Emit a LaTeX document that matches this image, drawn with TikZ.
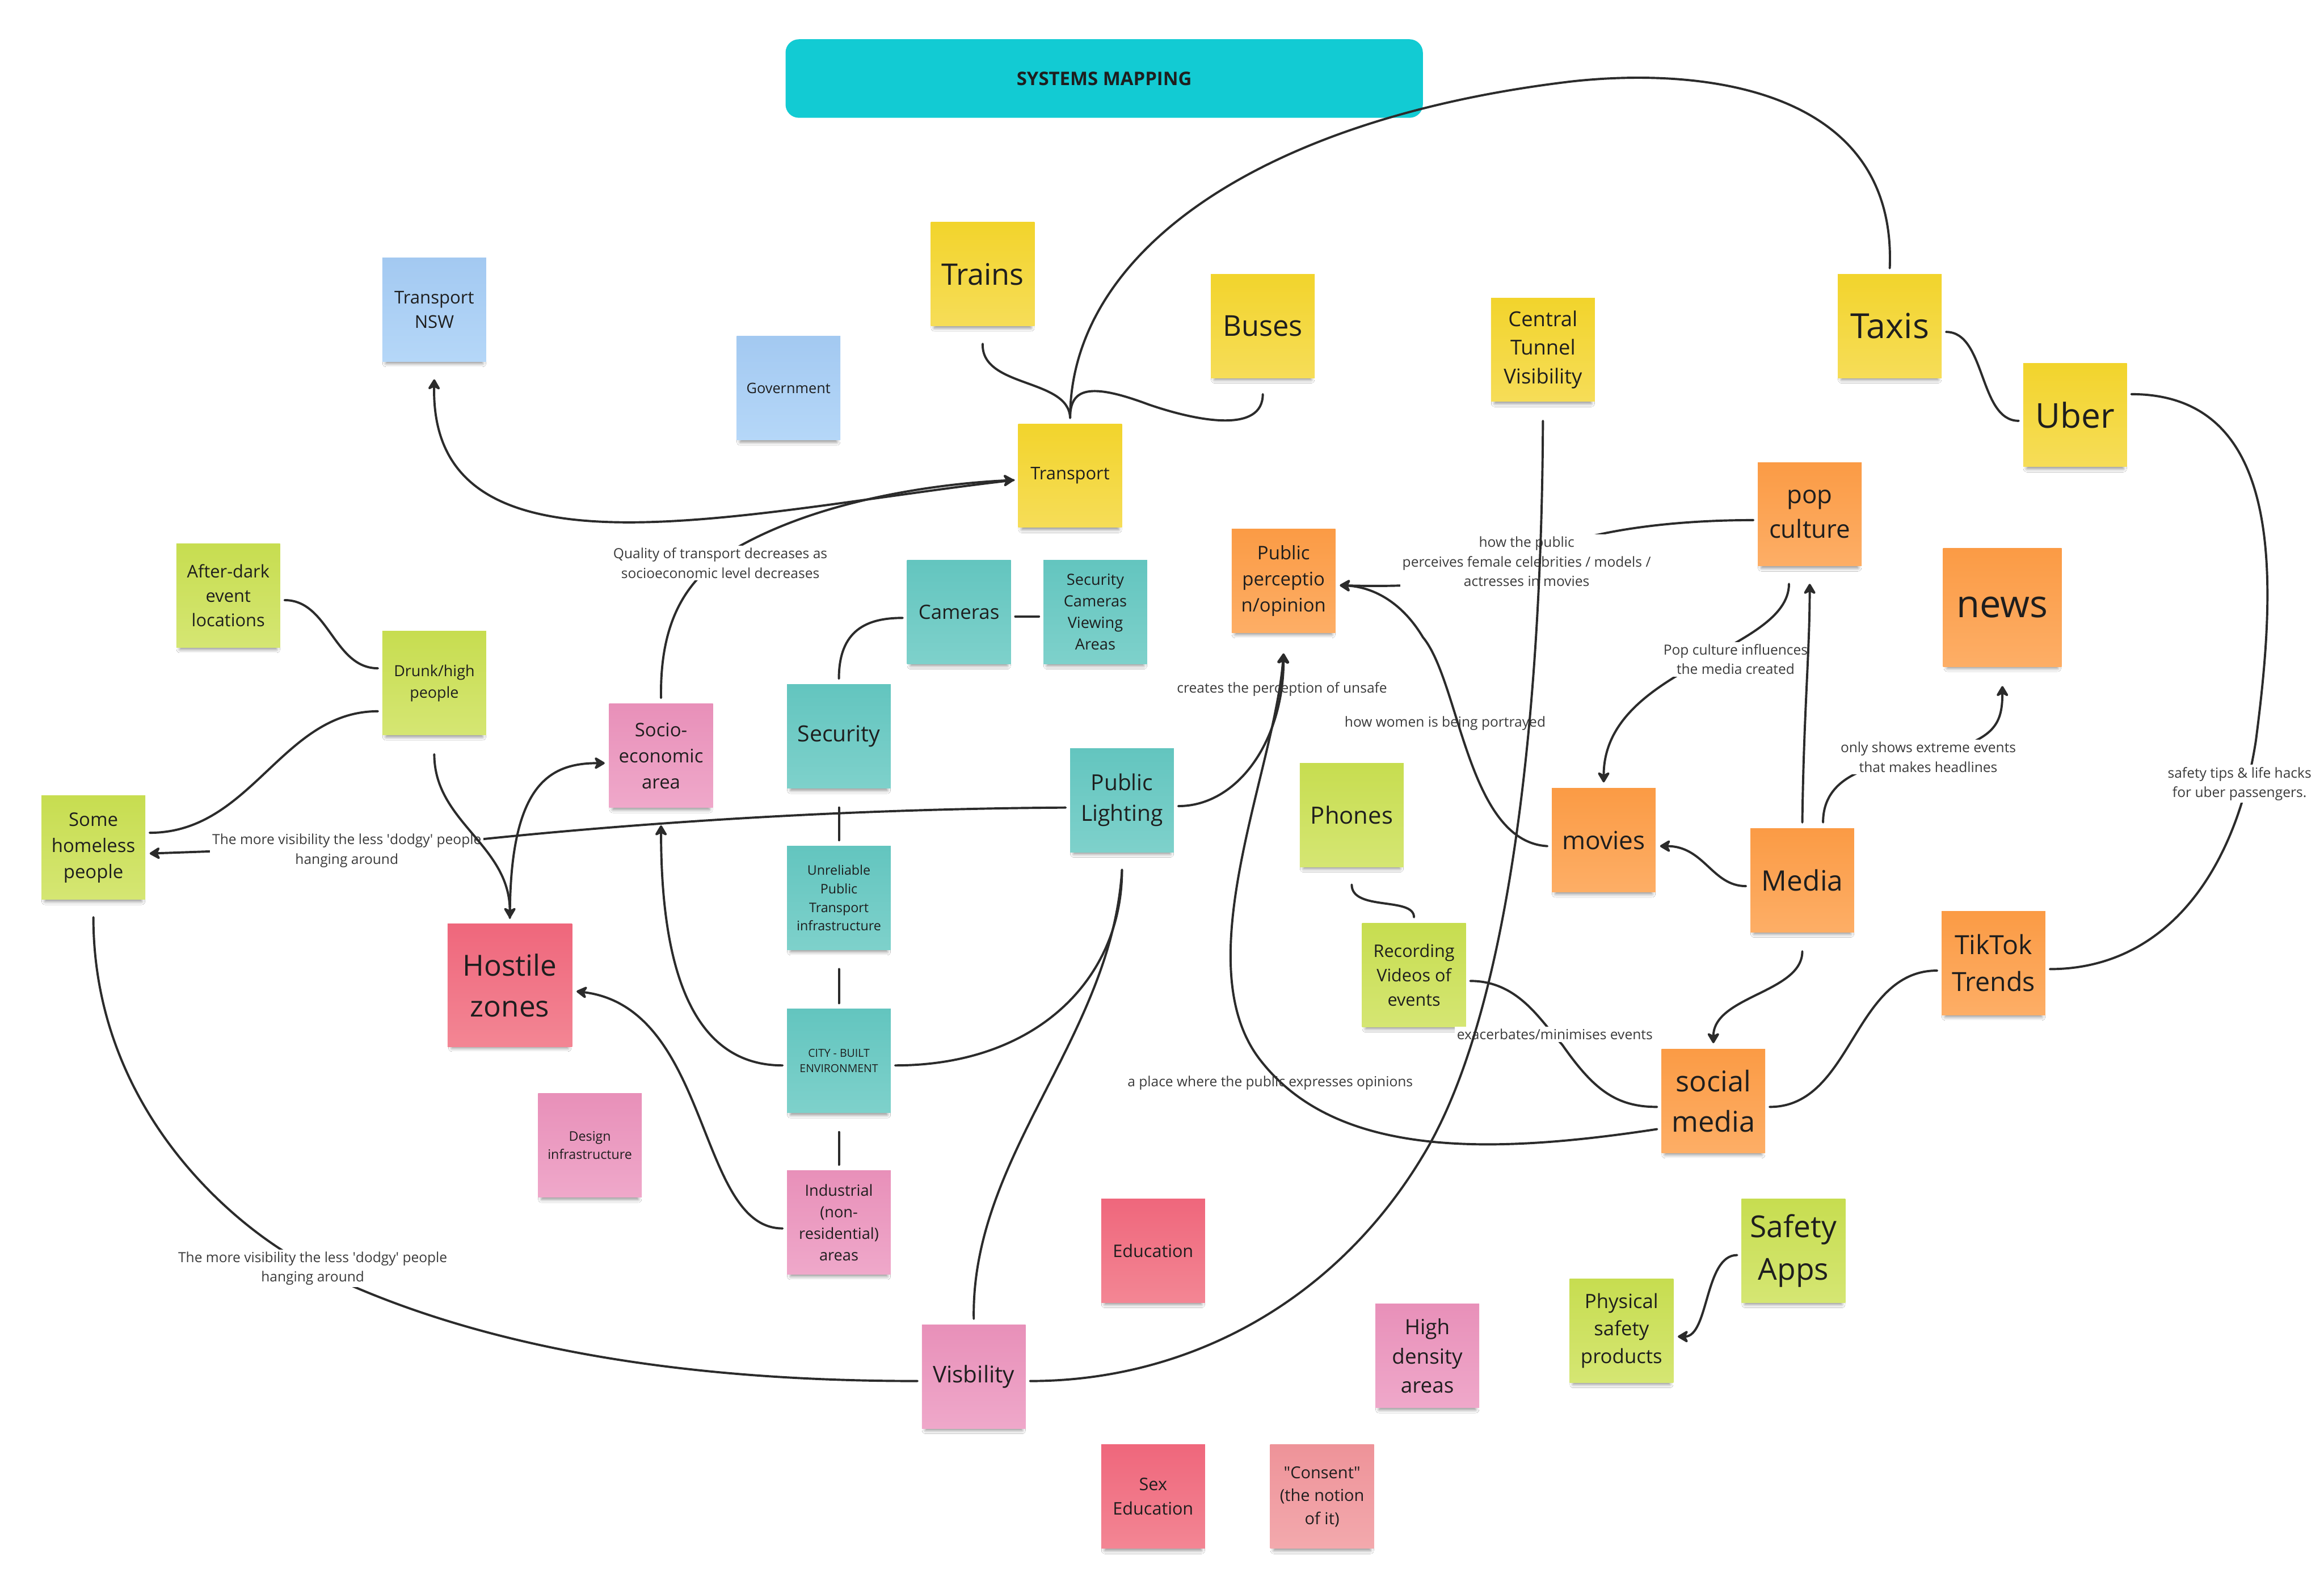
\documentclass[tikz,border=0pt]{standalone}
\usepackage{fontspec}
\setmainfont{Open Sans}
\usetikzlibrary{arrows.meta,shadows.blur}
\tikzset{>={Stealth[length=8.5pt,width=10pt,inset=2.6pt,round]}}
\definecolor{ink}{HTML}{1E1E1E}
\definecolor{labelink}{HTML}{3A3A3A}
\definecolor{wire}{HTML}{2B2B2B}
\definecolor{titlecol}{HTML}{12CBD3}
\definecolor{yelTop}{HTML}{F2D42C}\definecolor{yelBot}{HTML}{F6DD58}
\definecolor{orgTop}{HTML}{FB9B45}\definecolor{orgBot}{HTML}{FDAE66}
\definecolor{tealTop}{HTML}{63C5BF}\definecolor{tealBot}{HTML}{7ED1CB}
\definecolor{grnTop}{HTML}{C7DD50}\definecolor{grnBot}{HTML}{D5E673}
\definecolor{pinkTop}{HTML}{E890B9}\definecolor{pinkBot}{HTML}{EFA8CA}
\definecolor{redTop}{HTML}{EF677C}\definecolor{redBot}{HTML}{F38694}
\definecolor{salTop}{HTML}{EE9399}\definecolor{salBot}{HTML}{F3A9AD}
\definecolor{bluTop}{HTML}{A3C9F1}\definecolor{bluBot}{HTML}{B5D7F8}
\newcommand\fs[1]{\pgfmathsetmacro\fsskip{1.4*#1}\fontsize{#1}{\fsskip}\selectfont}
\tikzstyle{note}=[rectangle,minimum width=70pt,minimum height=70pt,inner sep=0pt,
  outer xsep=3pt,outer ysep=4pt,align=center,text=ink,
  blur shadow={shadow xshift=0pt,shadow yshift=-4pt,shadow opacity=45,
  shadow blur radius=2.5pt,shadow blur steps=6,shadow scale=0.93}]
\tikzstyle{yellow note}=[note,top color=yelTop,bottom color=yelBot]
\tikzstyle{orange note}=[note,top color=orgTop,bottom color=orgBot]
\tikzstyle{teal note}=[note,top color=tealTop,bottom color=tealBot]
\tikzstyle{green note}=[note,top color=grnTop,bottom color=grnBot]
\tikzstyle{pink note}=[note,top color=pinkTop,bottom color=pinkBot]
\tikzstyle{red note}=[note,top color=redTop,bottom color=redBot]
\tikzstyle{salmon note}=[note,top color=salTop,bottom color=salBot]
\tikzstyle{blue note}=[note,top color=bluTop,bottom color=bluBot]
\tikzstyle{titlebox}=[rectangle,rounded corners=9pt,fill=titlecol,minimum width=430pt,
  minimum height=53pt,text=ink,font=\bfseries\fs{12.6}]
\tikzstyle{conn}=[draw=wire,line width=1.5pt,line cap=round]
\tikzstyle{link}=[conn,->]
\tikzstyle{lbl}=[font=\fs{9.4},text=labelink,align=center,inner sep=1.5pt]
\tikzstyle{lbl cut}=[lbl,fill=white]

\begin{document}
\begin{tikzpicture}[x=1pt,y=-1pt]
  \fill[white] (0,0) rectangle (1568,1073);
  \useasboundingbox (0,0) rectangle (1568,1073);

  % TITLE
  \node[titlebox] (title) at (745,53) {SYSTEMS MAPPING};

  % NOTES
  \node[blue note,font=\fs{11.9}] (tnsw) at (293,209) {Transport\\NSW};
  \node[blue note,font=\fs{9.7}] (gov) at (532,262) {Government};
  \node[yellow note,font=\fs{20}] (trains) at (663,185) {Trains};
  \node[yellow note,font=\fs{19.4}] (buses) at (852,220) {Buses};
  \node[yellow note,font=\fs{11.8}] (transport) at (722,321) {Transport};
  \node[yellow note,font=\fs{13.9}] (ctv) at (1041,236) {Central\\Tunnel\\Visibility};
  \node[yellow note,font=\fs{23.3}] (taxis) at (1275,220) {Taxis};
  \node[yellow note,font=\fs{23.1}] (uber) at (1400,280) {Uber};
  \node[orange note,font=\fs{16.8}] (pop) at (1221,347) {pop\\culture};
  \node[orange note,font=\fs{25.6},minimum width=80pt,minimum height=80pt] (news) at (1351,410) {news};
  \node[green note,font=\fs{11.8}] (afterdark) at (154,402) {After-dark\\event\\locations};
  \node[green note,font=\fs{10.3}] (drunk) at (293,461) {Drunk/high\\people};
  \node[green note,font=\fs{12.6}] (homeless) at (63,572) {Some\\homeless\\people};
  \node[pink note,font=\fs{12.6}] (socio) at (446,510) {Socio-\\economic\\area};
  \node[red note,font=\fs{19.6},minimum width=84pt,minimum height=83pt] (hostile) at (344,665) {Hostile\\zones};
  \node[pink note,font=\fs{8.9}] (design) at (398,773) {Design\\infrastructure};
  \node[teal note,font=\fs{15}] (security) at (566,497) {Security};
  \node[teal note,font=\fs{13.3}] (cameras) at (647,413) {Cameras};
  \node[teal note,font=\fs{10.4}] (scva) at (739,413) {Security\\Cameras\\Viewing\\Areas};
  \node[teal note,font=\fs{8.9}] (unreliable) at (566,606) {Unreliable\\Public\\Transport\\infrastructure};
  \node[teal note,font=\fs{7.45}] (city) at (566,716) {CITY - BUILT\\ENVIRONMENT};
  \node[pink note,font=\fs{10.4}] (industrial) at (566,825) {Industrial\\(non-\\residential)\\areas};
  \node[teal note,font=\fs{14.9}] (lighting) at (757,540) {Public\\Lighting};
  \node[orange note,font=\fs{12.6}] (percep) at (866,392) {Public\\perceptio\\n/opinion};
  \node[green note,font=\fs{16}] (phones) at (912,550) {Phones};
  \node[green note,font=\fs{11.7}] (recording) at (954,658) {Recording\\Videos of\\events};
  \node[orange note,font=\fs{16.9}] (movies) at (1082,567) {movies};
  \node[orange note,font=\fs{19}] (media) at (1216,594) {Media};
  \node[orange note,font=\fs{17.8}] (tiktok) at (1345,650) {TikTok\\Trends};
  \node[orange note,font=\fs{19.3}] (social) at (1156,743) {social\\media};
  \node[green note,font=\fs{20.4}] (apps) at (1210,844) {Safety\\Apps};
  \node[green note,font=\fs{13.3}] (physical) at (1094,898) {Physical\\safety\\products};
  \node[pink note,font=\fs{15.5}] (visb) at (657,929) {Visbility};
  \node[red note,font=\fs{11.7}] (edu) at (778,844) {Education};
  \node[pink note,font=\fs{14.1}] (density) at (963,915) {High\\density\\areas};
  \node[red note,font=\fs{11.7}] (sexed) at (778,1010) {Sex\\Education};
  \node[salmon note,font=\fs{11.1}] (consent) at (892,1010) {\textquotedbl Consent\textquotedbl\\(the notion\\of it)};

  % TRANSPORT LINKS
  \draw[link] ([yshift=-3]transport.west) .. controls (500,345) and (290,400) .. ([yshift=-8]tnsw.south);
  \draw[conn] ([yshift=-8]trains.south) .. controls (662,262) and (721,255) .. (transport.north);
  \draw[conn] ([yshift=-7]buses.south) .. controls (852,292) and (810,285) .. (775,273)
    .. controls (735,258) and (722,262) .. (transport.north);
  \draw[conn] (taxis.north) .. controls (1280,60) and (1150,45) .. (1060,55)
    .. controls (850,80) and (722,170) .. (transport.north);
  \draw[conn] ([yshift=-4]taxis.east) .. controls (1340,224) and (1335,284) .. ([yshift=-4]uber.west);
  \draw[conn] ([yshift=14]uber.east) .. controls (1545,266) and (1535,400) .. (1522,500)
    .. controls (1508,590) and (1460,654) .. ([yshift=-4]tiktok.east);
  \node[lbl cut] (lsafety) at (1511,529) {safety tips \& life hacks\\for uber passengers.};

  % MEDIA LINKS
  \draw[link] ([yshift=-4]pop.west) .. controls (1120,351) and (1060,360) .. (1030,378)
    .. controls (1000,396) and (940,396) .. ([yshift=-3]percep.east);
  \node[lbl cut] (lpublic) at (1030,379) {how the public\\perceives female celebrities / models /\\actresses in movies};
  \draw[link] ([xshift=-14,yshift=-8]pop.south) .. controls (1207,440) and (1082,450) .. (movies.north);
  \node[lbl cut] (linfluence) at (1171,445) {Pop culture influences\\the media created};
  \draw[link] (media.north) .. controls (1217,480) and (1221,440) .. ([yshift=-8]pop.south);
  \draw[link] ([xshift=14]media.north) .. controls (1230,520) and (1270,515) .. (1301,510)
    .. controls (1345,500) and (1351,490) .. ([yshift=-9]news.south);
  \node[lbl cut] (lextreme) at (1301,511) {only shows extreme events\\that makes headlines};
  \draw[link] ([yshift=-4]media.west) .. controls (1155,598) and (1150,571) .. ([yshift=-4]movies.east);
  \draw[link] ([yshift=-9]media.south) .. controls (1216,670) and (1156,672) .. (social.north);
  \draw[conn] ([yshift=-4]recording.east) .. controls (1025,662) and (1040,690) .. (1054,705)
    .. controls (1075,735) and (1090,747) .. ([yshift=-4]social.west);
  \node[lbl cut] (lexacerbate) at (1049,698) {exacerbates/minimises events};
  \draw[conn] ([yshift=-8]phones.south) .. controls (912,615) and (954,605) .. (recording.north);
  \draw[conn] ([yshift=-5]tiktok.west) .. controls (1250,655) and (1250,747) .. ([yshift=-4]social.east);
  \draw[link] ([yshift=-3]apps.west) .. controls (1150,847) and (1153,902) .. ([yshift=-4]physical.east);

  % PERCEPTION
  \draw[link] ([yshift=-4]lighting.east) .. controls (835,544) and (866,500) .. ([yshift=-10]percep.south);
  \draw[link] ([yshift=-19]social.west) .. controls (1000,780) and (900,780) .. (850,715)
    .. controls (800,650) and (860,520) .. ([yshift=-10]percep.south);
  \draw[link] ([yshift=-4]movies.west) .. controls (990,568) and (985,460) .. (960,430)
    .. controls (945,405) and (925,396) .. ([yshift=-3]percep.east);
  \node[lbl] (lunsafe) at (865,465) {creates the perception of unsafe};
  \node[lbl] (lportray) at (975,488) {how women is being portrayed};
  \node[lbl] (lexpress) at (857,731) {a place where the public expresses opinions};

  % VISIBILITY
  \draw[link] ([yshift=-5]lighting.west) .. controls (550,546) and (400,558) .. (300,569)
    -- ([yshift=-4]homeless.east);
  \node[lbl cut] (lvis) at (234,574) {The more visibility the less \textquotesingle dodgy\textquotesingle{} people\\hanging around};
  \draw[conn] ([yshift=-8]homeless.south) .. controls (63,750) and (160,830) .. (210,855)
    .. controls (330,915) and (480,932) .. ([yshift=-3]visb.west);
  \node[lbl cut] (lvis2) at (211,856) {The more visibility the less \textquotesingle dodgy\textquotesingle{} people\\hanging around};
  \draw[conn] ([yshift=-9]ctv.south) .. controls (1040,500) and (1015,690) .. (960,780)
    .. controls (900,880) and (800,932) .. ([yshift=-3]visb.east);
  \draw[conn] (visb.north) .. controls (655,780) and (750,700) .. ([yshift=-8]lighting.south);

  % PEOPLE AND PLACES
  \draw[conn] ([yshift=-19]drunk.west) .. controls (190,480) and (170,562) .. ([yshift=10]homeless.east);
  \draw[conn] ([yshift=-3]afterdark.east) .. controls (222,405) and (225,451) .. ([yshift=10]drunk.west);
  \draw[link] ([yshift=-9]drunk.south) .. controls (293,555) and (344,570) .. (hostile.north);
  \draw[link] (hostile.north) .. controls (344,530) and (370,515) .. ([yshift=-5]socio.west);
  \draw[link] (socio.north) .. controls (445,410) and (470,385) .. (500,368)
    .. controls (560,335) and (640,326) .. ([yshift=-3]transport.west);
  \node[lbl cut] (lquality) at (486,380) {Quality of transport decreases as\\socioeconomic level decreases};
  \draw[link] ([yshift=-3]city.west) .. controls (470,719) and (446,660) .. ([yshift=-8]socio.south);
  \draw[conn] ([yshift=-3]city.east) .. controls (700,719) and (757,660) .. ([yshift=-8]lighting.south);
  \draw[link] ([yshift=-4]industrial.west) .. controls (470,829) and (480,680) .. ([yshift=-4]hostile.east);

  % SECURITY
  \draw[conn] (security.north) .. controls (566,425) and (585,417) .. ([yshift=-4]cameras.west);
  \draw[conn] ([yshift=-3]cameras.east) -- ([yshift=-3]scva.west);
  \foreach \a/\b in {security/unreliable,unreliable/city,city/industrial}
    \draw[conn] ([yshift=-9]\a.south) -- (\b.north);

\end{tikzpicture}
\end{document}
